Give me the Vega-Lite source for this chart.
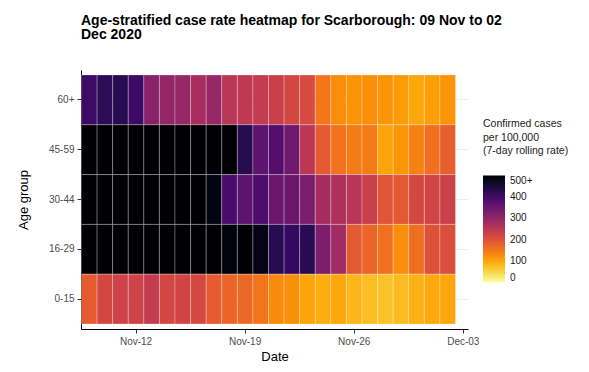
{
  "$schema": "https://vega.github.io/schema/vega-lite/v6.json",
  "width": 387,
  "height": 259,
  "autosize": {"type": "none"},
  "padding": {"left": 81, "top": 70, "right": 121, "bottom": 43},
  "background": "white",
  "title": {
    "text": ["Age-stratified case rate heatmap for Scarborough: 09 Nov to 02", "Dec 2020"],
    "anchor": "start",
    "frame": "group",
    "font": "Liberation Sans",
    "fontSize": 14,
    "fontWeight": "bold",
    "color": "black",
    "lineHeight": 14.5,
    "offset": 28
  },
  "data": {
    "values": [
      {"date": "2020-11-09", "age": "60+", "rate": 405}, {"date": "2020-11-10", "age": "60+", "rate": 425}, {"date": "2020-11-11", "age": "60+", "rate": 430}, {"date": "2020-11-12", "age": "60+", "rate": 405},
      {"date": "2020-11-13", "age": "60+", "rate": 315}, {"date": "2020-11-14", "age": "60+", "rate": 300}, {"date": "2020-11-15", "age": "60+", "rate": 295}, {"date": "2020-11-16", "age": "60+", "rate": 275},
      {"date": "2020-11-17", "age": "60+", "rate": 295}, {"date": "2020-11-18", "age": "60+", "rate": 250}, {"date": "2020-11-19", "age": "60+", "rate": 245}, {"date": "2020-11-20", "age": "60+", "rate": 238},
      {"date": "2020-11-21", "age": "60+", "rate": 230}, {"date": "2020-11-22", "age": "60+", "rate": 215}, {"date": "2020-11-23", "age": "60+", "rate": 210}, {"date": "2020-11-24", "age": "60+", "rate": 150},
      {"date": "2020-11-25", "age": "60+", "rate": 125}, {"date": "2020-11-26", "age": "60+", "rate": 118}, {"date": "2020-11-27", "age": "60+", "rate": 122}, {"date": "2020-11-28", "age": "60+", "rate": 118},
      {"date": "2020-11-29", "age": "60+", "rate": 108}, {"date": "2020-11-30", "age": "60+", "rate": 98}, {"date": "2020-12-01", "age": "60+", "rate": 105}, {"date": "2020-12-02", "age": "60+", "rate": 118},

      {"date": "2020-11-09", "age": "45-59", "rate": 560}, {"date": "2020-11-10", "age": "45-59", "rate": 590}, {"date": "2020-11-11", "age": "45-59", "rate": 620}, {"date": "2020-11-12", "age": "45-59", "rate": 640},
      {"date": "2020-11-13", "age": "45-59", "rate": 650}, {"date": "2020-11-14", "age": "45-59", "rate": 630}, {"date": "2020-11-15", "age": "45-59", "rate": 610}, {"date": "2020-11-16", "age": "45-59", "rate": 580},
      {"date": "2020-11-17", "age": "45-59", "rate": 550}, {"date": "2020-11-18", "age": "45-59", "rate": 520}, {"date": "2020-11-19", "age": "45-59", "rate": 430}, {"date": "2020-11-20", "age": "45-59", "rate": 365},
      {"date": "2020-11-21", "age": "45-59", "rate": 380}, {"date": "2020-11-22", "age": "45-59", "rate": 345}, {"date": "2020-11-23", "age": "45-59", "rate": 250}, {"date": "2020-11-24", "age": "45-59", "rate": 185},
      {"date": "2020-11-25", "age": "45-59", "rate": 155}, {"date": "2020-11-26", "age": "45-59", "rate": 145}, {"date": "2020-11-27", "age": "45-59", "rate": 145}, {"date": "2020-11-28", "age": "45-59", "rate": 100},
      {"date": "2020-11-29", "age": "45-59", "rate": 115}, {"date": "2020-11-30", "age": "45-59", "rate": 138}, {"date": "2020-12-01", "age": "45-59", "rate": 158}, {"date": "2020-12-02", "age": "45-59", "rate": 180},

      {"date": "2020-11-09", "age": "30-44", "rate": 610}, {"date": "2020-11-10", "age": "30-44", "rate": 640}, {"date": "2020-11-11", "age": "30-44", "rate": 660}, {"date": "2020-11-12", "age": "30-44", "rate": 670},
      {"date": "2020-11-13", "age": "30-44", "rate": 650}, {"date": "2020-11-14", "age": "30-44", "rate": 620}, {"date": "2020-11-15", "age": "30-44", "rate": 580}, {"date": "2020-11-16", "age": "30-44", "rate": 530},
      {"date": "2020-11-17", "age": "30-44", "rate": 485}, {"date": "2020-11-18", "age": "30-44", "rate": 390}, {"date": "2020-11-19", "age": "30-44", "rate": 365}, {"date": "2020-11-20", "age": "30-44", "rate": 388},
      {"date": "2020-11-21", "age": "30-44", "rate": 350}, {"date": "2020-11-22", "age": "30-44", "rate": 350}, {"date": "2020-11-23", "age": "30-44", "rate": 330}, {"date": "2020-11-24", "age": "30-44", "rate": 280},
      {"date": "2020-11-25", "age": "30-44", "rate": 265}, {"date": "2020-11-26", "age": "30-44", "rate": 252}, {"date": "2020-11-27", "age": "30-44", "rate": 230}, {"date": "2020-11-28", "age": "30-44", "rate": 195},
      {"date": "2020-11-29", "age": "30-44", "rate": 188}, {"date": "2020-11-30", "age": "30-44", "rate": 215}, {"date": "2020-12-01", "age": "30-44", "rate": 220}, {"date": "2020-12-02", "age": "30-44", "rate": 228},

      {"date": "2020-11-09", "age": "16-29", "rate": 700}, {"date": "2020-11-10", "age": "16-29", "rate": 740}, {"date": "2020-11-11", "age": "16-29", "rate": 760}, {"date": "2020-11-12", "age": "16-29", "rate": 750},
      {"date": "2020-11-13", "age": "16-29", "rate": 720}, {"date": "2020-11-14", "age": "16-29", "rate": 680}, {"date": "2020-11-15", "age": "16-29", "rate": 640}, {"date": "2020-11-16", "age": "16-29", "rate": 590},
      {"date": "2020-11-17", "age": "16-29", "rate": 540}, {"date": "2020-11-18", "age": "16-29", "rate": 490}, {"date": "2020-11-19", "age": "16-29", "rate": 510}, {"date": "2020-11-20", "age": "16-29", "rate": 480},
      {"date": "2020-11-21", "age": "16-29", "rate": 430}, {"date": "2020-11-22", "age": "16-29", "rate": 415}, {"date": "2020-11-23", "age": "16-29", "rate": 428}, {"date": "2020-11-24", "age": "16-29", "rate": 328},
      {"date": "2020-11-25", "age": "16-29", "rate": 283}, {"date": "2020-11-26", "age": "16-29", "rate": 185}, {"date": "2020-11-27", "age": "16-29", "rate": 172}, {"date": "2020-11-28", "age": "16-29", "rate": 158},
      {"date": "2020-11-29", "age": "16-29", "rate": 125}, {"date": "2020-11-30", "age": "16-29", "rate": 160}, {"date": "2020-12-01", "age": "16-29", "rate": 200}, {"date": "2020-12-02", "age": "16-29", "rate": 205},

      {"date": "2020-11-09", "age": "0-15", "rate": 183}, {"date": "2020-11-10", "age": "0-15", "rate": 215}, {"date": "2020-11-11", "age": "0-15", "rate": 222}, {"date": "2020-11-12", "age": "0-15", "rate": 223},
      {"date": "2020-11-13", "age": "0-15", "rate": 238}, {"date": "2020-11-14", "age": "0-15", "rate": 215}, {"date": "2020-11-15", "age": "0-15", "rate": 220}, {"date": "2020-11-16", "age": "0-15", "rate": 213},
      {"date": "2020-11-17", "age": "0-15", "rate": 183}, {"date": "2020-11-18", "age": "0-15", "rate": 172}, {"date": "2020-11-19", "age": "0-15", "rate": 168}, {"date": "2020-11-20", "age": "0-15", "rate": 152},
      {"date": "2020-11-21", "age": "0-15", "rate": 128}, {"date": "2020-11-22", "age": "0-15", "rate": 123}, {"date": "2020-11-23", "age": "0-15", "rate": 100}, {"date": "2020-11-24", "age": "0-15", "rate": 92},
      {"date": "2020-11-25", "age": "0-15", "rate": 97}, {"date": "2020-11-26", "age": "0-15", "rate": 82}, {"date": "2020-11-27", "age": "0-15", "rate": 75}, {"date": "2020-11-28", "age": "0-15", "rate": 70},
      {"date": "2020-11-29", "age": "0-15", "rate": 76}, {"date": "2020-11-30", "age": "0-15", "rate": 88}, {"date": "2020-12-01", "age": "0-15", "rate": 95}, {"date": "2020-12-02", "age": "0-15", "rate": 98}
    ]
  },
  "mark": {"type": "rect", "stroke": "white", "strokeWidth": 0.6, "strokeOpacity": 0.45},
  "encoding": {
    "x": {
      "field": "date",
      "type": "temporal",
      "timeUnit": "utcyearmonthdate",
      "title": "Date",
      "scale": {
        "domain": [
          {"year": 2020, "month": 11, "date": 9, "utc": true},
          {"year": 2020, "month": 12, "date": 3, "hours": 20, "utc": true}
        ],
        "nice": false
      },
      "axis": {
        "values": [
          {"year": 2020, "month": 11, "date": 12, "hours": 12, "utc": true},
          {"year": 2020, "month": 11, "date": 19, "hours": 12, "utc": true},
          {"year": 2020, "month": 11, "date": 26, "hours": 12, "utc": true},
          {"year": 2020, "month": 12, "date": 3, "hours": 12, "utc": true}
        ],
        "labelExpr": "utcFormat(datum.value, '%b-%d')",
        "grid": false,
        "zindex": 0,
        "labelPadding": 3,
        "titlePadding": 4,
        "labelFlush": false,
        "labelOverlap": false
      }
    },
    "y": {
      "field": "age",
      "type": "nominal",
      "sort": ["60+", "45-59", "30-44", "16-29", "0-15"],
      "title": "Age group",
      "scale": {"paddingInner": 0, "paddingOuter": 0.1},
      "axis": {
        "grid": true,
        "zindex": 0,
        "bandPosition": 0.5,
        "gridColor": "#ebebeb",
        "gridWidth": 1,
        "labelPadding": 3,
        "titlePadding": 18
      }
    },
    "color": {
      "field": "rate",
      "type": "quantitative",
      "scale": {"scheme": "inferno", "reverse": true, "domain": [0, 500], "clamp": true},
      "legend": {
        "title": ["Confirmed cases", "\u00a0per 100,000", "\u00a0(7-day rolling rate)"],
        "orient": "none",
        "legendX": 402,
        "legendY": 49,
        "direction": "vertical",
        "gradientLength": 107,
        "gradientThickness": 22,
        "gradientStrokeWidth": 0,
        "values": [0, 100, 200, 400, 500],
        "labelExpr": "datum.value >= 500 ? '500+' : datum.value == 400 ? ['400', '300'] : format(datum.value, 'd')",
        "labelOverlap": false,
        "labelFontSize": 10,
        "labelColor": "#1a1a1a",
        "labelOffset": 5,
        "titleFontSize": 10.5,
        "titleFontWeight": "normal",
        "titleColor": "#1a1a1a",
        "titleLineHeight": 13.5,
        "titlePadding": 19,
        "titleLimit": 200
      }
    }
  },
  "config": {
    "font": "Liberation Sans",
    "view": {"stroke": null},
    "style": {"guide-label": {"lineHeight": 21.4}},
    "axis": {
      "domainColor": "black",
      "domainWidth": 1,
      "tickColor": "#333333",
      "tickSize": 4,
      "labelColor": "#4d4d4d",
      "labelFontSize": 10,
      "titleFontSize": 13,
      "titleFontWeight": "normal",
      "titleColor": "black"
    }
  }
}
